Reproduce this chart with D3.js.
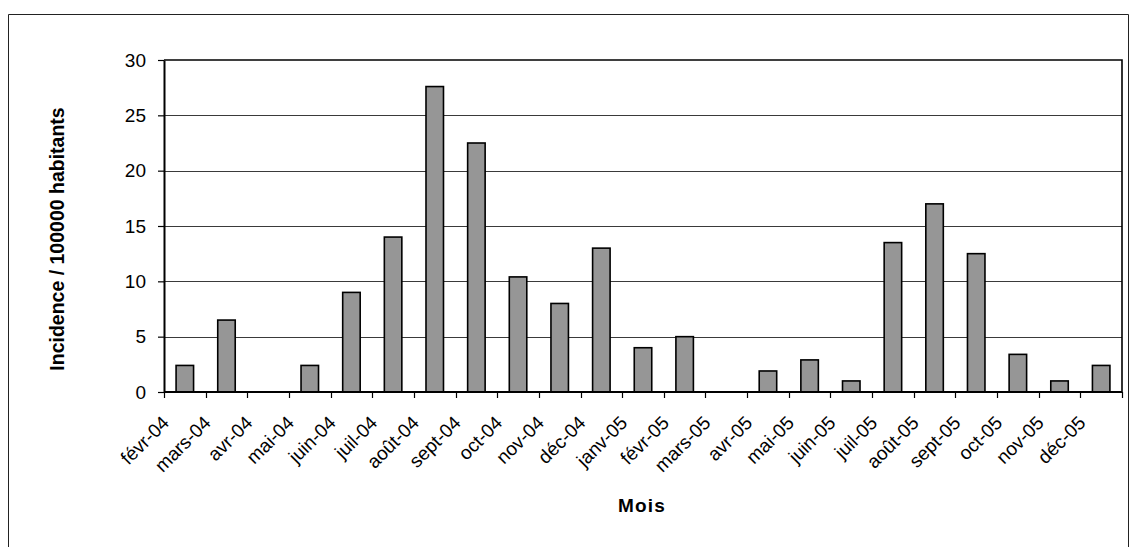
<!DOCTYPE html>
<html>
<head>
<meta charset="utf-8">
<script src="https://cdn.jsdelivr.net/npm/d3@7/dist/d3.min.js"></script>
<style>
  html, body { margin: 0; padding: 0; background: #fff; }
  svg { display: block; font-family: "Liberation Sans", Arial, sans-serif; }
</style>
</head>
<body>
<svg id="chart" width="1136" height="547"></svg>
<script>
const months = ["févr-04","mars-04","avr-04","mai-04","juin-04","juil-04","août-04","sept-04","oct-04","nov-04","déc-04","janv-05","févr-05","mars-05","avr-05","mai-05","juin-05","juil-05","août-05","sept-05","oct-05","nov-05","déc-05"];
const incidence = [2.4, 6.5, 0, 2.4, 9.0, 14.0, 27.6, 22.5, 10.4, 8.0, 13.0, 4.0, 5.0, 0, 1.9, 2.9, 1.0, 13.5, 17.0, 12.5, 3.4, 1.0, 2.4];
const yTicks = [0, 5, 10, 15, 20, 25, 30];
const yTitle = "Incidence / 100000 habitants";
const xTitle = "Mois";

const svg = d3.select("#chart");
const plot = { left: 164, right: 1122, top: 60, bottom: 392 };

// outer frame
svg.append("path")
  .attr("d", `M8.5,547 V14.5 H1128.5 V547`)
  .attr("fill", "none").attr("stroke", "#222").attr("stroke-width", 1);

const x = d3.scaleBand().domain(months).range([plot.left, plot.right]).paddingInner(0).paddingOuter(0);
const y = d3.scaleLinear().domain([0, 30]).range([plot.bottom, plot.top]);

// gridlines
svg.append("g").selectAll("line").data(yTicks.filter(t => t > 0 && t < 30)).join("line")
  .attr("x1", plot.left).attr("x2", plot.right)
  .attr("y1", d => Math.round(y(d)) + 0.5).attr("y2", d => Math.round(y(d)) + 0.5)
  .attr("stroke", "#3a3a3a").attr("stroke-width", 1);

// bars
const bw = x.bandwidth() * 0.42;
svg.append("g").selectAll("rect").data(months).join("rect")
  .attr("x", (d) => x(d) + x.bandwidth() / 2 - bw / 2)
  .attr("y", (d, i) => y(incidence[i]))
  .attr("width", bw)
  .attr("height", (d, i) => y(0) - y(incidence[i]))
  .attr("fill", "#969696")
  .attr("stroke", "#000")
  .attr("stroke-width", 1.6)
  .attr("display", (d, i) => incidence[i] > 0 ? null : "none");

// plot border (top & right)
svg.append("path")
  .attr("d", `M${plot.left},${plot.top} H${plot.right} V${plot.bottom}`)
  .attr("fill", "none").attr("stroke", "#000").attr("stroke-width", 1.6);

// y axis
const yAxis = d3.axisLeft(y).tickValues(yTicks).tickSize(6).tickPadding(12).tickSizeOuter(0);
const gy = svg.append("g").attr("transform", `translate(${plot.left},0)`).call(yAxis);
gy.select(".domain").attr("stroke", "#000").attr("stroke-width", 2);
gy.selectAll(".tick line").attr("stroke", "#000").attr("stroke-width", 1.2);
gy.selectAll(".tick text").attr("font-size", 19).attr("fill", "#000")
  .attr("font-family", "Liberation Sans, Arial, sans-serif");

// x axis: ticks at band boundaries
const boundaries = months.map(m => x(m)).concat([plot.right]);
const gx = svg.append("g");
gx.append("line").attr("x1", plot.left).attr("x2", plot.right)
  .attr("y1", plot.bottom).attr("y2", plot.bottom)
  .attr("stroke", "#000").attr("stroke-width", 2);
gx.selectAll("line.tk").data(boundaries).join("line").attr("class", "tk")
  .attr("x1", d => Math.round(d) + 0.5).attr("x2", d => Math.round(d) + 0.5)
  .attr("y1", plot.bottom).attr("y2", plot.bottom + 6)
  .attr("stroke", "#000").attr("stroke-width", 1.2);
gx.selectAll("text").data(months).join("text")
  .attr("transform", d => `translate(${x(d) + x.bandwidth() / 2 - 14.5},${plot.bottom + 32}) rotate(-45)`)
  .attr("text-anchor", "end")
  .attr("font-size", 19)
  .attr("fill", "#000")
  .text(d => d);

// axis titles
svg.append("text")
  .attr("transform", `translate(64,239) rotate(-90)`)
  .attr("text-anchor", "middle")
  .attr("font-size", 19.5).attr("font-weight", "bold").attr("fill", "#000")
  .text(yTitle);

svg.append("text")
  .attr("x", 642).attr("y", 512)
  .attr("text-anchor", "middle")
  .attr("font-size", 19).attr("font-weight", "bold").attr("fill", "#000")
  .attr("letter-spacing", 1.2)
  .text(xTitle);
</script>
</body>
</html>
